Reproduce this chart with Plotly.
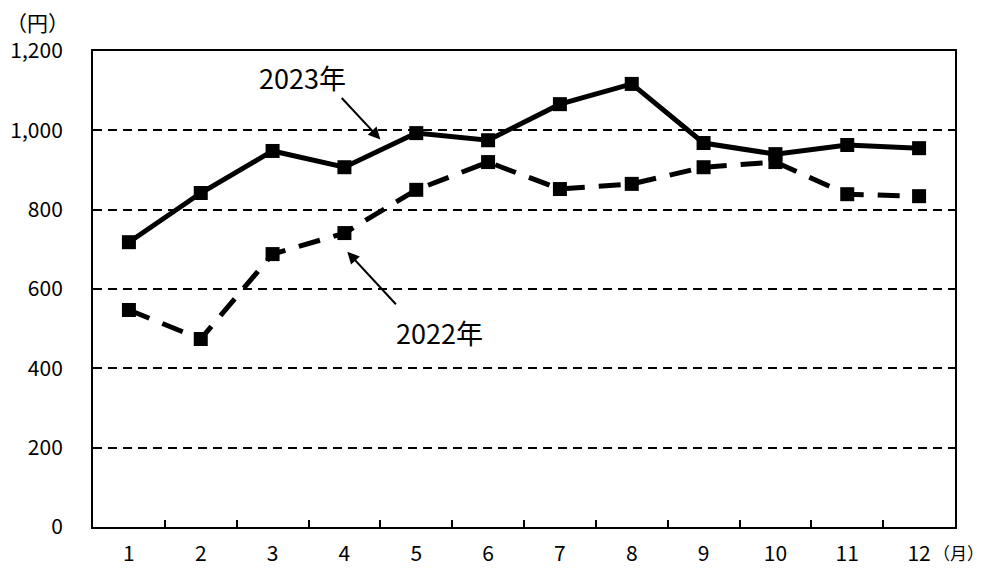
import plotly.graph_objects as go

months = ["1", "2", "3", "4", "5", "6", "7", "8", "9", "10", "11", "12"]
price_2023 = [718, 842, 948, 907, 993, 975, 1066, 1117, 968, 940, 963, 955]
price_2022 = [547, 474, 688, 741, 850, 920, 852, 865, 907, 920, 839, 834]
y_ticks = [0, 200, 400, 600, 800, 1000, 1200]
y_tick_text = ["0", "200", "400", "600", "800", "1,000", "1,200"]

FONT = "Noto Sans CJK JP"

fig = go.Figure()
fig.add_trace(go.Scatter(
    x=months, y=price_2023, mode="lines+markers", name="2023年",
    line=dict(color="black", width=5),
    marker=dict(symbol="square", size=14, color="black"),
))
fig.add_trace(go.Scatter(
    x=months, y=price_2022, mode="lines+markers", name="2022年",
    line=dict(color="black", width=5, dash="22px,14px"),
    marker=dict(symbol="square", size=14, color="black"),
))

fig.update_layout(
    width=986, height=568,
    margin=dict(l=93, r=31, t=51, b=41),
    paper_bgcolor="white", plot_bgcolor="white",
    showlegend=False,
    font=dict(family=FONT, size=21, color="black"),
    xaxis=dict(
        type="category", tickson="boundaries", ticks="inside", ticklen=7,
        tickwidth=2, tickcolor="black",
        showline=True, linecolor="black", linewidth=2, mirror=True,
        showgrid=False, ticklabelstandoff=7, automargin=False,
        range=[-0.5, 11.5],
    ),
    yaxis=dict(
        range=[0, 1200], tickvals=y_ticks, ticktext=y_tick_text,
        showline=True, linecolor="black", linewidth=2, mirror=True,
        showgrid=True, gridcolor="black", gridwidth=1.5, griddash="9px,6px",
        zeroline=False, ticks="", ticklabelstandoff=24, automargin=False,
    ),
)

# unit labels
fig.add_annotation(text="（円）", xref="paper", yref="paper", x=-0.064, y=1.0,
                   yshift=29, xanchor="center", yanchor="middle",
                   showarrow=False, font=dict(size=21))
fig.add_annotation(text="（月）", xref="paper", yref="paper", x=1.0355, y=0,
                   yshift=-25, xanchor="right", yanchor="middle",
                   showarrow=False, font=dict(size=17))

# series labels with pointer arrows
fig.add_annotation(text="2023年", x=2.42, y=1133, showarrow=False,
                   font=dict(size=27))
fig.add_annotation(text="", x=3.5, y=977, ax=-40, ay=-43, showarrow=True,
                   arrowhead=2, arrowsize=1.2, arrowwidth=2, arrowcolor="black")
fig.add_annotation(text="2022年", x=4.33, y=490, showarrow=False,
                   font=dict(size=27))
fig.add_annotation(text="", x=3.04, y=694, ax=50, ay=54, showarrow=True,
                   arrowhead=2, arrowsize=1.2, arrowwidth=2, arrowcolor="black")

fig.write_html("out.html")
